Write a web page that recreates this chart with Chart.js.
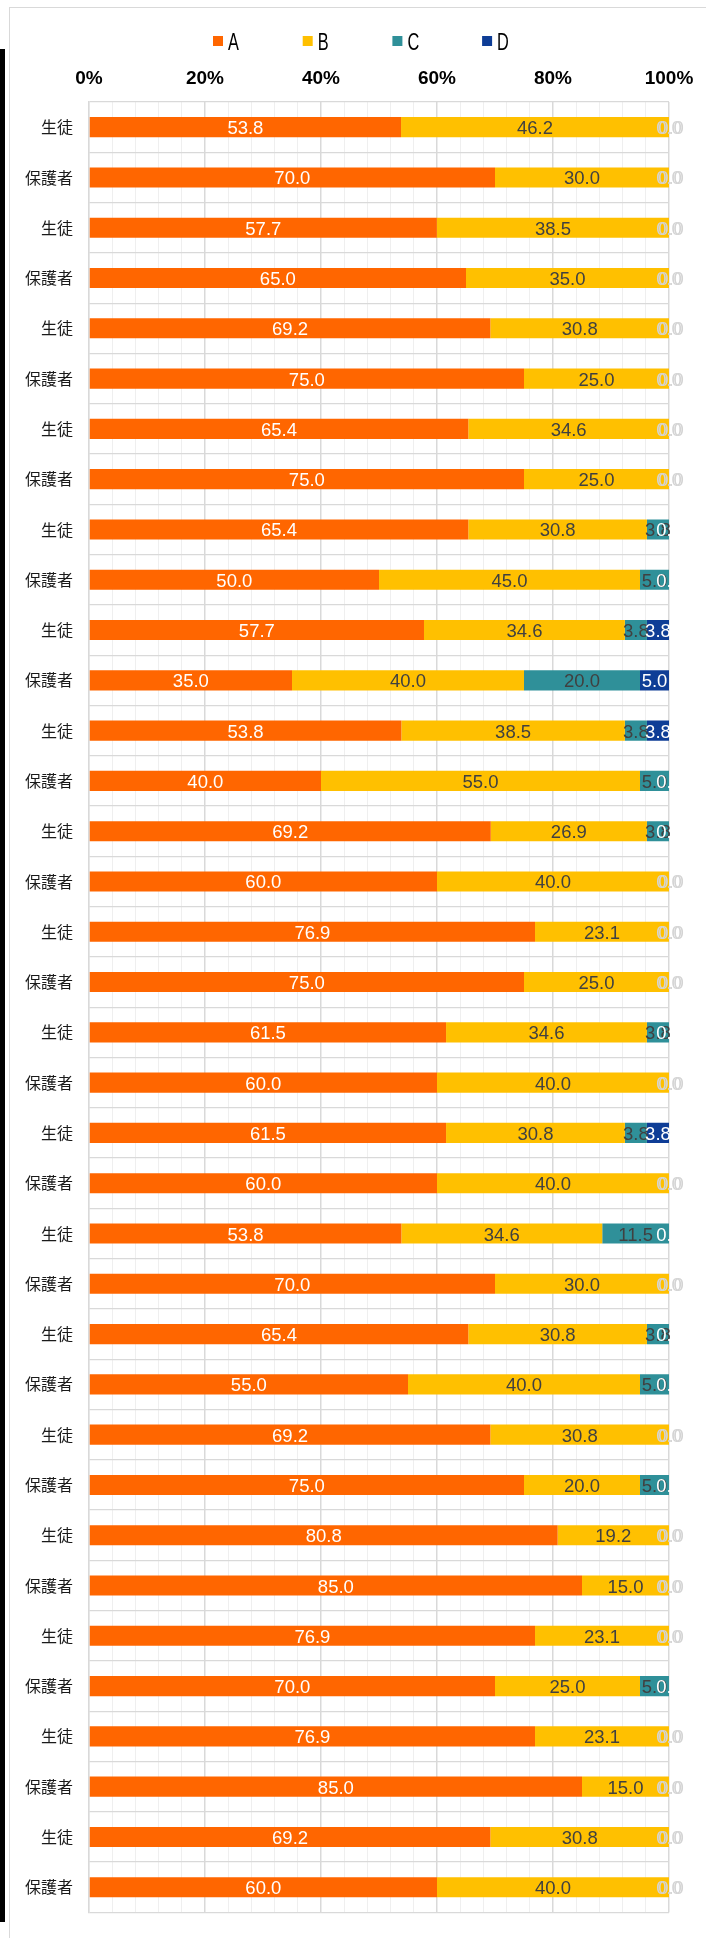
<!DOCTYPE html>
<html>
<head>
<meta charset="utf-8">
<script src="https://cdn.jsdelivr.net/npm/chart.js@4/dist/chart.umd.min.js"></script>
<style>
  html, body { margin: 0; padding: 0; background: #ffffff; }
  body { width: 706px; height: 1938px; position: relative; overflow: hidden; }
  #frame { position: absolute; left: 9px; top: 7px; width: 720px; height: 2000px; border-left: 1px solid #d9d9d9; border-top: 1px solid #d9d9d9; box-sizing: border-box; }
  #bar { position: absolute; left: 0; top: 49px; width: 5px; height: 1873px; background: #000; }
  #c { position: absolute; left: 0; top: 0; }
</style>
</head>
<body>
<div id="frame"></div>
<div id="bar"></div>
<canvas id="c" width="706" height="1938"></canvas>
<script>
// ---- data ----
const categories = [
  '生徒','保護者','生徒','保護者','生徒','保護者','生徒','保護者','生徒','保護者',
  '生徒','保護者','生徒','保護者','生徒','保護者','生徒','保護者','生徒','保護者',
  '生徒','保護者','生徒','保護者','生徒','保護者','生徒','保護者','生徒','保護者',
  '生徒','保護者','生徒','保護者','生徒','保護者'
];
const seriesNames = ['A', 'B', 'C', 'D'];
const valuesA = [53.8,70.0,57.7,65.0,69.2,75.0,65.4,75.0,65.4,50.0,57.7,35.0,53.8,40.0,69.2,60.0,76.9,75.0,61.5,60.0,61.5,60.0,53.8,70.0,65.4,55.0,69.2,75.0,80.8,85.0,76.9,70.0,76.9,85.0,69.2,60.0];
const valuesB = [46.2,30.0,38.5,35.0,30.8,25.0,34.6,25.0,30.8,45.0,34.6,40.0,38.5,55.0,26.9,40.0,23.1,25.0,34.6,40.0,30.8,40.0,34.6,30.0,30.8,40.0,30.8,20.0,19.2,15.0,23.1,25.0,23.1,15.0,30.8,40.0];
const valuesC = [0,0,0,0,0,0,0,0,3.8,5.0,3.8,20.0,3.8,5.0,3.8,0,0,0,3.8,0,3.8,0,11.5,0,3.8,5.0,0,5.0,0,0,0,5.0,0,0,0,0];
const valuesD = [0,0,0,0,0,0,0,0,0,0,3.8,5.0,3.8,0,0,0,0,0,0,0,3.8,0,0,0,0,0,0,0,0,0,0,0,0,0,0,0];
const tickLabels = ['0%','20%','40%','60%','80%','100%'];

// ---- styles ----
const colors = ['#FF6600', '#FFC000', '#2F9099', '#0E3D96'];
const labelColors = ['#ffffff', '#404040', '#404040', '#ffffff'];
const raw = [valuesA, valuesB, valuesC, valuesD];
const totals = categories.map((_, j) => raw.reduce((s, arr) => s + arr[j], 0));

const datasets = raw.map((arr, i) => ({
  label: seriesNames[i],
  data: arr.map((v, j) => v / totals[j] * 100),
  backgroundColor: colors[i],
  borderWidth: 0,
  categoryPercentage: 1.0,
  barPercentage: 0.4
}));

const labelPlugin = {
  id: 'valueLabels',
  afterDatasetsDraw(chart) {
    const ctx = chart.ctx;
    ctx.save();
    ctx.font = '18.5px "Liberation Sans", Arial, sans-serif';
    ctx.textAlign = 'center';
    ctx.textBaseline = 'alphabetic';
    chart.data.datasets.forEach((ds, i) => {
      const meta = chart.getDatasetMeta(i);
      meta.data.forEach((el, j) => {
        const v = raw[i][j];
        const cx = (el.x + el.base) / 2;
        const cy = el.y + 7;
        let col = labelColors[i];
        let dx = 0;
        if (v === 0) {
          if (i === 2) { col = '#d4d4d4'; }
          if (i === 3) { col = valuesC[j] === 0 ? '#d4d4d4' : '#ffffff'; dx = valuesC[j] === 0 ? 2 : 0; }
        }
        ctx.fillStyle = col;
        ctx.fillText(v.toFixed(1), cx + dx, cy);
      });
    });
    ctx.restore();
  }
};

const legendPlugin = {
  id: 'customLegend',
  afterDraw(chart) {
    const ctx = chart.ctx;
    const cy = 41;
    const start = 218, step = 89.7;
    chart.data.datasets.forEach((ds, i) => {
      const bx = start + i * step;
      ctx.save();
      ctx.fillStyle = ds.backgroundColor;
      ctx.fillRect(bx - 5, cy - 5, 10, 10);
      ctx.translate(bx + 10, cy + 9);
      ctx.scale(0.68, 1);
      ctx.font = '24px "Liberation Sans", Arial, sans-serif';
      ctx.textBaseline = 'alphabetic';
      ctx.textAlign = 'left';
      ctx.fillStyle = '#000';
      ctx.fillText(ds.label, 0, 0);
      ctx.restore();
    });
  }
};

new Chart(document.getElementById('c'), {
  type: 'bar',
  data: { labels: categories, datasets },
  plugins: [labelPlugin, legendPlugin],
  options: {
    indexAxis: 'y',
    responsive: false,
    animation: false,
    layout: { padding: { top: 50, bottom: 16, right: 37, left: 0 } },
    plugins: { legend: { display: false }, tooltip: { enabled: false } },
    scales: {
      x: {
        position: 'top',
        stacked: true,
        min: 0, max: 100,
        ticks: {
          stepSize: 4,
          autoSkip: false,
          maxRotation: 0,
          padding: 12,
          color: '#000',
          font: { family: '"Liberation Sans", Arial, sans-serif', size: 19, weight: 'bold' },
          callback: (v) => (v % 20 === 0 ? tickLabels[v / 20] : '')
        },
        grid: {
          drawTicks: false,
          color: (c) => (c.tick && c.tick.value % 20 === 0 ? '#d9d9d9' : '#efefef'),
          lineWidth: (c) => (c.tick && c.tick.value % 20 === 0 ? 1.5 : 1)
        },
        border: { display: false },
        afterFit: (s) => { s.height = 52; }
      },
      y: {
        stacked: true,
        ticks: {
          autoSkip: false,
          padding: 16,
          color: '#1a1a1a',
          font: { family: '"Noto Sans CJK JP", sans-serif', size: 16 }
        },
        grid: { drawTicks: false, color: '#d9d9d9', lineWidth: 1.3 },
        border: { display: true, color: '#d9d9d9', width: 1.3 },
        afterFit: (s) => { s.width = 89; }
      }
    }
  }
});
</script>
</body>
</html>
